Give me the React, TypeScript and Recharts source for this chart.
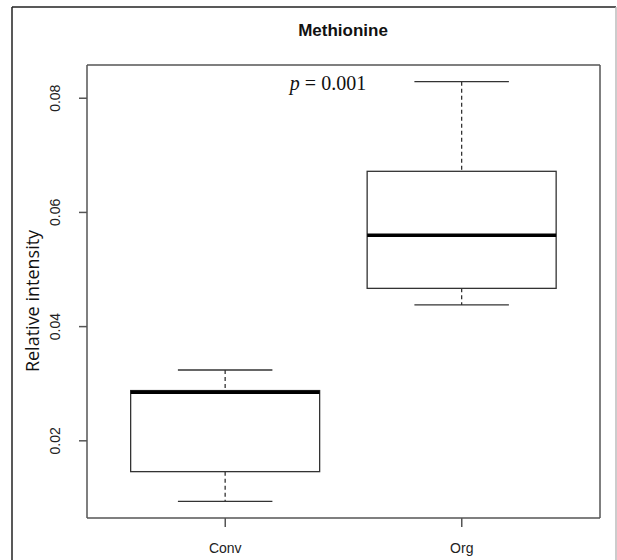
import { ComposedChart, Bar, XAxis, YAxis, CartesianGrid } from 'recharts';

const categories = ['Conv', 'Org'];
const mins = [0.0094, 0.0438];
const q1s = [0.0146, 0.0467];
const medians = [0.0285, 0.056];
const q3s = [0.0288, 0.0672];
const maxs = [0.0324, 0.0829];
const yTicks = [0.02, 0.04, 0.06, 0.08];
const yDomain = [0.00648, 0.08582];

const chartData = categories.map((name, i) => ({
  name,
  min: mins[i],
  q1: q1s[i],
  median: medians[i],
  q3: q3s[i],
  max: maxs[i],
  range: [mins[i], maxs[i]],
}));

const LINE = '#333';

const BoxShape = (props: any) => {
  const { x, y, width, height, payload } = props;
  const top = Math.min(y, y + height);
  const h = Math.abs(height);
  const { min, q1, median, q3, max } = payload;
  // linear map inside the whisker range drawn by the bar
  const py = (v: number) => top + (h * (max - v)) / (max - min);
  const cx = x + width / 2;
  const capHalf = width / 4;
  return (
    <g>
      <line x1={cx} x2={cx} y1={py(max)} y2={py(q3)} stroke={LINE} strokeWidth={1.3} strokeDasharray='4 3' />
      <line x1={cx} x2={cx} y1={py(q1)} y2={py(min)} stroke={LINE} strokeWidth={1.3} strokeDasharray='4 3' />
      <line x1={cx - capHalf} x2={cx + capHalf} y1={py(max)} y2={py(max)} stroke={LINE} strokeWidth={1.3} />
      <line x1={cx - capHalf} x2={cx + capHalf} y1={py(min)} y2={py(min)} stroke={LINE} strokeWidth={1.3} />
      <rect x={x} y={py(q3)} width={width} height={py(q1) - py(q3)} fill='#fff' stroke={LINE} strokeWidth={1.3} />
      <line x1={x} x2={x + width} y1={py(median)} y2={py(median)} stroke='#000' strokeWidth={3.5} />
    </g>
  );
};

const YTick = ({ x, y, payload }: any) => (
  <text
    x={x - 17}
    y={y}
    transform={`rotate(-90, ${x - 17}, ${y})`}
    textAnchor='middle'
    fontSize={14}
    fontFamily='Liberation Sans, Arial, sans-serif'
    fill='#222'
  >
    {payload.value.toFixed(2)}
  </text>
);

const XTick = ({ x, y, payload }: any) => (
  <text
    x={x}
    y={y + 24}
    textAnchor='middle'
    fontSize={14}
    fontFamily='Liberation Sans, Arial, sans-serif'
    fill='#222'
  >
    {payload.value}
  </text>
);

const App = () => {
  return (
    <div style={{ position: 'absolute', left: 0, top: 0, width: 617, height: 560, background: '#fff' }}>
      <ComposedChart
        width={617}
        height={560}
        data={chartData}
        margin={{ top: 65, right: 17, bottom: 12, left: 27 }}
        barCategoryGap='10%'
      >
        {/* plot frame: lines on the four edges of the plot area */}
        <CartesianGrid
          stroke='#555'
          strokeWidth={1.5}
          horizontalCoordinatesGenerator={({ offset }: any) => [offset.top, offset.top + offset.height]}
          verticalCoordinatesGenerator={({ offset }: any) => [offset.left, offset.left + offset.width]}
        />
        <XAxis
          dataKey='name'
          height={30}
          padding={{ left: 20, right: 20 }}
          axisLine={false}
          tickLine={{ stroke: '#555', strokeWidth: 1.5 }}
          tickSize={9}
          tick={<XTick />}
          interval={0}
        />
        <YAxis
          type='number'
          domain={yDomain}
          ticks={yTicks}
          allowDataOverflow
          width={60}
          axisLine={false}
          tickLine={{ stroke: '#555', strokeWidth: 1.5 }}
          tickSize={8}
          tick={<YTick />}
        />
        <Bar dataKey='range' shape={<BoxShape />} isAnimationActive={false} />
      </ComposedChart>

      <svg
        width={617}
        height={560}
        style={{ position: 'absolute', left: 0, top: 0, pointerEvents: 'none' }}
      >
        <line x1={12} x2={12} y1={7} y2={560} stroke='#222' strokeWidth={1.5} />
        <line x1={12} x2={616} y1={7} y2={7} stroke='#222' strokeWidth={1.5} />
        <line x1={616} x2={616} y1={7} y2={560} stroke='#bbb' strokeWidth={1.5} />
        <text
          x={343}
          y={36}
          textAnchor='middle'
          fontSize={17}
          fontWeight='bold'
          fontFamily='Liberation Sans, Arial, sans-serif'
          fill='#111'
        >
          Methionine
        </text>
        <text
          x={328}
          y={90}
          textAnchor='middle'
          fontSize={20}
          fontFamily='Liberation Serif, Times New Roman, serif'
          fill='#111'
        >
          <tspan fontStyle='italic'>p</tspan> = 0.001
        </text>
        <text
          x={39}
          y={301}
          transform='rotate(-90, 39, 301)'
          textAnchor='middle'
          fontSize={18}
          fontFamily='Open Sans, sans-serif'
          fill='#111'
        >
          Relative intensity
        </text>
      </svg>
    </div>
  );
};

export default App;
